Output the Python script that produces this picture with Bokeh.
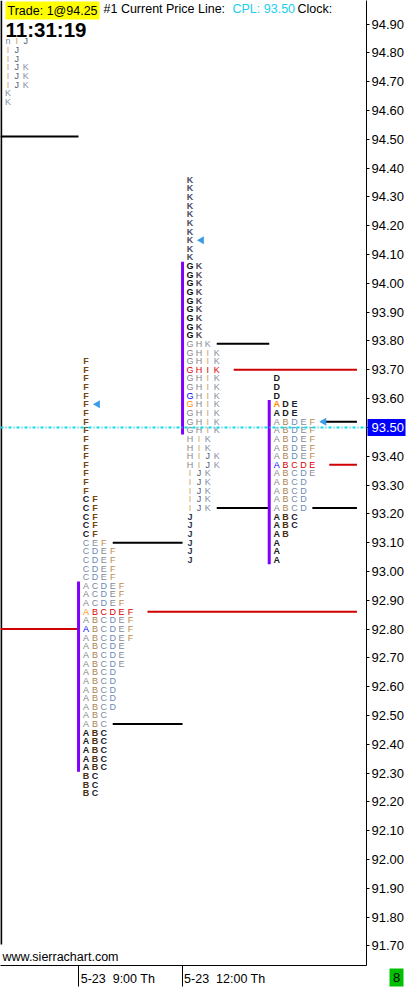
import numpy as np
from bokeh.plotting import figure
from bokeh.models import (Range1d, LinearAxis, FixedTicker, PrintfTickFormatter,
                          Span, Label, ColumnDataSource)
from bokeh.core.properties import value
from bokeh.embed import file_html
from bokeh.resources import INLINE

# ---------------- data ----------------
TPO_STEP = 0.03                      # price height of one TPO row
price_ticks = [round(91.70 + 0.10 * i, 2) for i in range(33)]
time_ticks = [0, 6]                  # 30-min periods after 9:00
time_labels = ["5-23\u00a0 9:00 Th", "5-23\u00a0 12:00 Th"]

session_start = [-4.5, 0, 6, 11]     # profile start, in 30-min periods after 9:00
profile_top = [94.84, 93.73, 94.36, 93.67]
profile_rows = [
    ["nIJ", "IJ", "IJ", "IJK", "IJK", "IJK", "K", "K"],
    ["F"] * 16 + ["CF"] * 5 + ["CEF"] + ["CDEF"] * 4 + ["ACDEF"] * 3 + ["ABCDEF"] * 4
    + ["ABCDE"] * 3 + ["ABCD"] * 5 + ["ABC"] * 7 + ["BC"] * 3,
    ["K"] * 10 + ["GK"] * 9 + ["GHK"] + ["GHIK"] * 10 + ["HIK"] * 2 + ["HIJK"] * 2
    + ["IJK"] * 5 + ["J"] * 6,
    ["D"] * 3 + ["ADE"] * 2 + ["ABDEF"] * 5 + ["ABCDE"] * 2 + ["ABCD"] * 4 + ["ABC"] * 2
    + ["AB"] + ["A"] * 3,
]
poc_row = [None, 29, 22, 10]
open_row = [None, 29, 26, 3]
close_row = [None, 31, 25, 10]
va_rows = [None, (26, 47), (10, 29), (3, 21)]
ext_rows = [None, (21, 42), (19, 38), (5, 15)]
marker_row = [None, 5, 7, 5]
prior_poc = 92.80
prior_level = 94.51
prior_line_low = 91.705
current_price = 93.50
trade_text = "Trade: 1@94.25"
clock_text = "11:31:19"
bar_count = "8"

# ---------------- layout / style ----------------
X_LEFT, X_RIGHT = -4.5, 16.61
Y_LOW, Y_HIGH = 91.632, 94.982
COL_W = 0.514
LETTER_OFF = 0.43
LEVEL_END = 16.06
FRAME_W, FRAME_H = 366, 965
FONT = "Liberation Sans"
PPX = FRAME_W / (X_RIGHT - X_LEFT)     # screen px per x unit
PPY = FRAME_H / (Y_HIGH - Y_LOW)       # screen px per price unit

LIGHT = {"A": "#858585", "B": "#ad8452", "C": "#778aa2", "D": "#688bbd", "E": "#858b98",
         "F": "#bd8a4e", "G": "#858585", "H": "#8a8a8a", "I": "#d0a06c", "J": "#4a5b7c",
         "K": "#8791a6", "n": "#778aa2"}
DARK = {"A": "#1c1c1c", "B": "#4a3010", "C": "#182030", "D": "#181818", "E": "#1a2238",
        "F": "#74470f", "G": "#0d0d0d", "H": "#303030", "I": "#704a20", "J": "#283850",
        "K": "#4f4a5e"}
RED, ORANGE, BLUE = "#e00000", "#ff8c00", "#0000ff"

# ---------------- build glyph data ----------------
lt = dict(x=[], y=[], t=[], c=[])
dk = dict(x=[], y=[], t=[], c=[])
va = dict(x=[], y0=[], y1=[])
blk = dict(x0=[], x1=[], y=[])
red = dict(x0=[], x1=[], y=[])
tri = dict(x=[], y=[])

for pi, rows in enumerate(profile_rows):
    x0 = session_start[pi] + LETTER_OFF
    top = profile_top[pi]
    nxt = session_start[pi + 1] if pi + 1 < len(session_start) else LEVEL_END
    ext = ext_rows[pi]
    for r, s in enumerate(rows):
        y = top - r * TPO_STEP
        dark = ext is not None and (r < ext[0] or r > ext[1])
        for k, ch in enumerate(s):
            col = (DARK if dark else LIGHT).get(ch, "#888888")
            if r == poc_row[pi]:
                col = RED
            if r == open_row[pi] and k == 0:
                col = ORANGE
            if r == close_row[pi] and k == 0:
                col = BLUE
            d = dk if dark else lt
            d["x"].append(x0 + k * COL_W)
            d["y"].append(y)
            d["t"].append(ch)
            d["c"].append(col)
    if va_rows[pi] is not None:
        a, b = va_rows[pi]
        va["x"].append(session_start[pi])
        va["y0"].append(top - a * TPO_STEP + TPO_STEP / 2)
        va["y1"].append(top - b * TPO_STEP - TPO_STEP / 2)
    if ext is not None:
        for r in ext:
            blk["x0"].append(x0 + len(rows[r]) * COL_W)
            blk["x1"].append(nxt)
            blk["y"].append(top - r * TPO_STEP)
    if poc_row[pi] is not None:
        r = poc_row[pi]
        red["x0"].append(x0 + (len(rows[r]) + 0.9) * COL_W)
        red["x1"].append(LEVEL_END)
        red["y"].append(top - r * TPO_STEP)
    if marker_row[pi] is not None:
        r = marker_row[pi]
        tri["x"].append(x0 + (len(rows[r]) + 0.3) * COL_W)
        tri["y"].append(top - r * TPO_STEP)

# prior-session levels
blk["x0"].append(session_start[0]); blk["x1"].append(session_start[1]); blk["y"].append(prior_level)
red["x0"].append(session_start[0]); red["x1"].append(session_start[1]); red["y"].append(prior_poc)

# ---------------- figure ----------------
p = figure(frame_width=FRAME_W, frame_height=FRAME_H,
           x_range=Range1d(X_LEFT, X_RIGHT), y_range=Range1d(Y_LOW, Y_HIGH),
           output_backend="svg", toolbar_location=None,
           x_axis_location=None, y_axis_location=None,
           min_border_left=0, min_border_top=0, min_border_right=38, min_border_bottom=21,
           background_fill_color="white", border_fill_color="white",
           outline_line_color=None)
for g in p.grid:
    g.visible = False

# price axis (right)
yax = LinearAxis(ticker=FixedTicker(ticks=price_ticks),
                 formatter=PrintfTickFormatter(format="%.2f"))
yax.major_tick_out = 3
yax.major_tick_in = 0
yax.minor_tick_line_color = None
yax.major_label_standoff = 2
yax.axis_line_color = "black"
yax.major_tick_line_color = "black"
yax.major_label_text_font = FONT
yax.major_label_text_font_size = "13px"
yax.major_label_text_color = "black"
p.add_layout(yax, "right")

# time axis (below): tick lines at session times, labels just right of them
label_pos = [round(t + (3 + 0.5 * 5.6 * len(s)) / PPX, 3) for t, s in zip(time_ticks, time_labels)]
xax = LinearAxis(ticker=FixedTicker(ticks=label_pos, minor_ticks=time_ticks),
                 major_label_overrides={lp: s for lp, s in zip(label_pos, time_labels)})
xax.major_tick_out = 0
xax.major_tick_in = 0
xax.major_tick_line_color = None
xax.minor_tick_out = 21
xax.minor_tick_in = 0
xax.minor_tick_line_color = "black"
xax.axis_line_color = "black"
xax.major_label_standoff = -15
xax.major_label_text_font = FONT
xax.major_label_text_font_size = "12.5px"
xax.major_label_text_color = "black"
p.add_layout(xax, "below")

# session divider on the left
p.segment(x0=[X_LEFT + 0.04], y0=[Y_HIGH], x1=[X_LEFT + 0.04], y1=[prior_line_low],
          line_color="black", line_width=2)

# level lines
p.segment(x0="x0", y0="y", x1="x1", y1="y", source=ColumnDataSource(blk),
          line_color="black", line_width=2)
p.segment(x0="x0", y0="y", x1="x1", y1="y", source=ColumnDataSource(red),
          line_color="#d00000", line_width=2)

# value area bars
p.segment(x0="x", y0="y0", x1="x", y1="y1", source=ColumnDataSource(va),
          line_color="#8000ff", line_width=3)

# TPO letters
p.text(x="x", y="y", text="t", text_color="c", source=ColumnDataSource(lt),
       text_font=value(FONT), text_font_size="9px", text_align="center",
       text_baseline="middle")
p.text(x="x", y="y", text="t", text_color="c", source=ColumnDataSource(dk),
       text_font=value(FONT), text_font_size="9px", text_font_style="bold",
       text_align="center", text_baseline="middle")

# markers
p.scatter(x="x", y="y", source=ColumnDataSource(tri), marker="triangle", angle=np.pi / 2,
          size=8, fill_color="#3a9be8", line_color=None)

# current price line
p.add_layout(Span(location=current_price, dimension="width", line_color="#10d8ec",
                  line_width=2, line_dash="3 2 1 2"))

# current price tag on the price scale and bar-count box (drawn above the axes)
p.quad(left=[X_RIGHT + 1 / PPX], right=[X_RIGHT + 39 / PPX],
       bottom=[current_price - 8.5 / PPY], top=[current_price + 8.5 / PPY],
       fill_color="#0000ff", line_color=None, level="overlay")
p.text(x=[X_RIGHT + 5 / PPX], y=[current_price], text=["%.2f" % current_price],
       text_color="white", text_font=value(FONT), text_font_size="13px",
       text_align="left", text_baseline="middle", level="overlay")
p.quad(left=[X_RIGHT + 23 / PPX], right=[X_RIGHT + 37 / PPX],
       bottom=[Y_LOW - 21 / PPY], top=[Y_LOW - 3 / PPY],
       fill_color="#00c000", line_color=None, level="overlay")
p.text(x=[X_RIGHT + 30 / PPX], y=[Y_LOW - 12 / PPY], text=[bar_count],
       text_color="black", text_font=value(FONT), text_font_size="13px",
       text_align="center", text_baseline="middle", level="overlay")

# header texts
def lab(text, xoff, yoff, size="12.5px", color="black", style="normal", bg=None,
        x=X_LEFT, y=Y_HIGH, baseline="top", pad=0):
    kw = dict(x=x, y=y, x_units="data", y_units="data", x_offset=xoff, y_offset=yoff,
              text=text, text_font=FONT, text_font_size=size, text_color=color,
              text_font_style=style, text_align="left", text_baseline=baseline)
    if bg is not None:
        kw.update(background_fill_color=bg, padding=pad)
    p.add_layout(Label(**kw))

lab(trade_text, 5, -1, bg="#ffff00", pad=2)
lab("#1 Current Price Line:", 103, -1)
lab("CPL: %.2f" % current_price, 232, -1, color="#18d0ec")
lab("Clock:", 297, -1)
lab(clock_text, 5, -17, size="20.5px", style="bold")
lab("www.sierrachart.com", 2, 2, y=Y_LOW, baseline="bottom")

open("out.html", "w").write(file_html(p, INLINE))
